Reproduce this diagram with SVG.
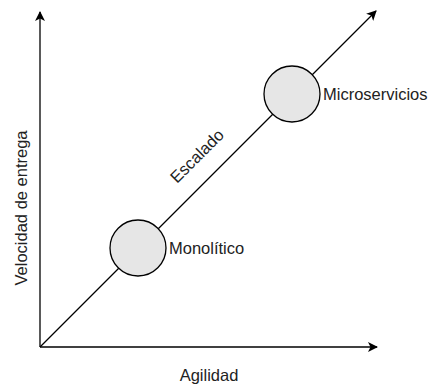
<svg xmlns="http://www.w3.org/2000/svg" width="429" height="385" viewBox="0 0 429 385">
<defs>
<marker id="arr" viewBox="0 0 10 10" refX="9" refY="5" markerWidth="10" markerHeight="10" markerUnits="userSpaceOnUse" orient="auto">
<path d="M0,0 L10,5 L0,10 L2.5,5 Z" fill="#000"/>
</marker>
</defs>
<style>
.ln{stroke:#000;stroke-width:1.3;fill:none}
.nd{fill:#e6e6e6;stroke:#000;stroke-width:1.3}
text{font-family:"Liberation Sans",Arial,sans-serif;font-size:16.5px;fill:#222}
</style>
<rect width="429" height="385" fill="#fff"/>
<g id="connectors">
<line class="ln" x1="40" y1="347" x2="40" y2="12" marker-end="url(#arr)"/>
<line class="ln" x1="40" y1="347" x2="377" y2="347" marker-end="url(#arr)"/>
<line class="ln" x1="40" y1="347" x2="376" y2="11" marker-end="url(#arr)"/>
</g>
<g id="monolitico">
<circle class="nd" cx="138" cy="248" r="28"/>
<text x="169" y="254">Monolítico</text>
</g>
<g id="microservicios">
<circle class="nd" cx="292" cy="94" r="28"/>
<text x="323" y="100">Microservicios</text>
</g>
<g id="labels">
<text x="201" y="160" text-anchor="middle" transform="rotate(-45 201 160)">Escalado</text>
<text x="27" y="208" text-anchor="middle" transform="rotate(-90 27 208)">Velocidad de entrega</text>
<text x="209" y="381" text-anchor="middle">Agilidad</text>
</g>
</svg>
